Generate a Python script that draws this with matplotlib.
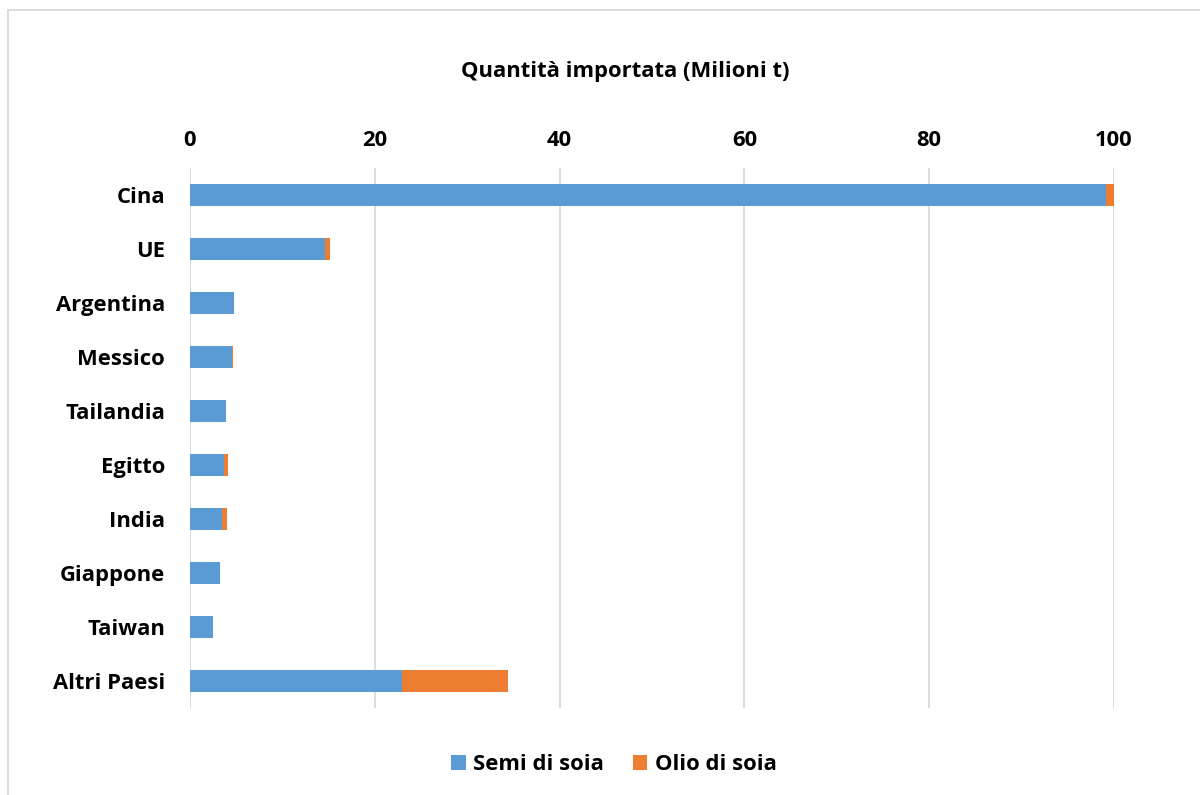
import matplotlib.pyplot as plt
from matplotlib.patches import Patch
from matplotlib.lines import Line2D

plt.rcParams['font.family'] = ['Open Sans', 'DejaVu Sans']

paesi = ["Cina", "UE", "Argentina", "Messico", "Tailandia", "Egitto",
         "India", "Giappone", "Taiwan", "Altri Paesi"]
semi = [99.1, 14.6, 4.75, 4.5, 3.9, 3.65, 3.45, 3.2, 2.5, 22.9]
olio = [1.1, 0.5, 0.05, 0.1, 0.05, 0.47, 0.6, 0.05, 0.02, 11.5]
xticks = [0, 20, 40, 60, 80, 100]

blue = "#5B9BD5"
orange = "#ED7D31"
fs = 15.8

fig = plt.figure(figsize=(12, 7.95), dpi=100)
ax = fig.add_axes([190/1200, 1 - 708/795, (1114-190)/1200, (708-168)/795])

y = list(range(len(paesi)))
ax.barh(y, semi, height=0.4, color=blue, zorder=3)
ax.barh(y, olio, left=semi, height=0.4, color=orange, zorder=3)

ax.set_ylim(len(paesi) - 0.5, -0.5)
ax.set_xlim(0, 100)
ax.set_yticks(y)
ax.set_yticklabels(paesi, fontsize=fs, fontweight='bold')
ax.set_xticks(xticks)
ax.set_xticklabels([str(v) for v in xticks], fontsize=fs, fontweight='bold')
ax.xaxis.tick_top()
ax.tick_params(axis='both', length=0)
ax.tick_params(axis='x', pad=12)
ax.tick_params(axis='y', pad=18)
ax.grid(axis='x', color='#D9D9D9', linewidth=1.3, zorder=0)
for s in ax.spines.values():
    s.set_visible(False)

fig.text(625/1200, 1 - 72/795, "Quantità importata (Milioni t)",
         ha='center', va='center', fontsize=fs, fontweight='bold')

handles = [Patch(facecolor=blue, label="Semi di soia"),
           Patch(facecolor=orange, label="Olio di soia")]
fig.legend(handles=handles, loc='center', bbox_to_anchor=(614/1200, 1 - 765/795),
           ncol=2, frameon=False, prop={'size': fs, 'weight': 'bold'},
           handlelength=0.65, handleheight=0.65, handletextpad=0.35, columnspacing=1.3)

# chart frame
fig.add_artist(Line2D([8/1200, 1], [1 - 10/795, 1 - 10/795], color='#D9D9D9', lw=1.3))
fig.add_artist(Line2D([8/1200, 8/1200], [0, 1 - 10/795], color='#D9D9D9', lw=1.3))

fig.savefig("out.png", dpi=100, facecolor='white')
